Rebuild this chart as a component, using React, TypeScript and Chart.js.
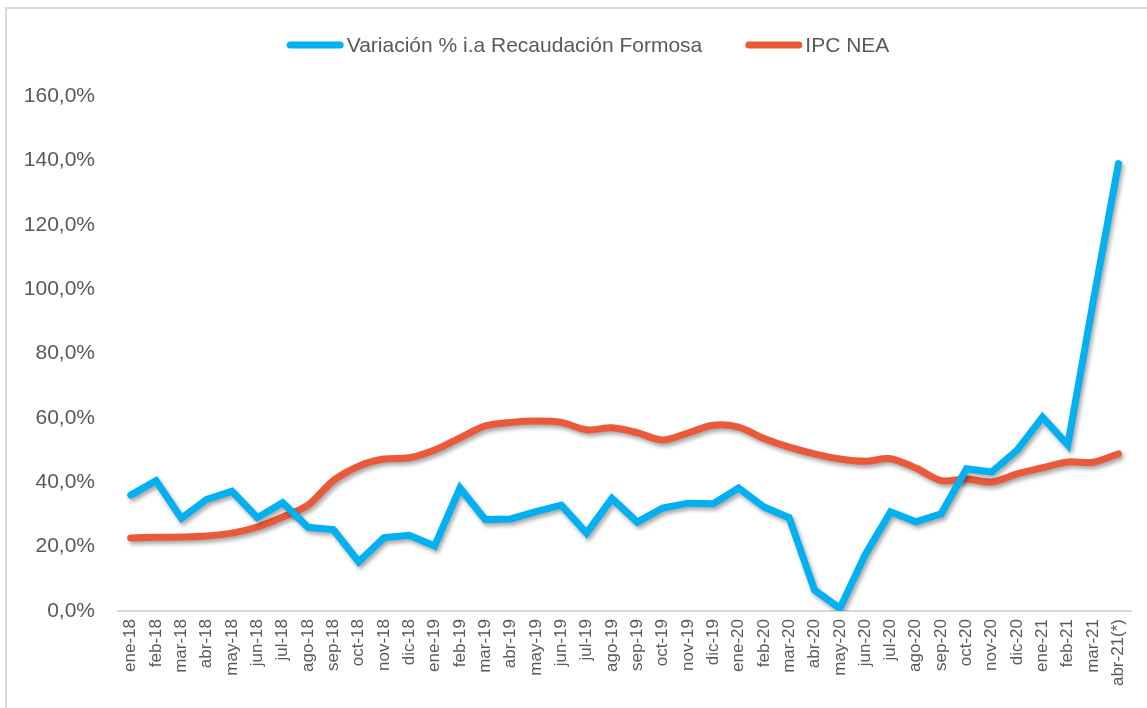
import React, { useEffect, useRef } from "react";
import { Chart, registerables } from "chart.js";

Chart.register(...registerables);

const categories = [
  "ene-18", "feb-18", "mar-18", "abr-18", "may-18", "jun-18", "jul-18", "ago-18", "sep-18", "oct-18", "nov-18", "dic-18",
  "ene-19", "feb-19", "mar-19", "abr-19", "may-19", "jun-19", "jul-19", "ago-19", "sep-19", "oct-19", "nov-19", "dic-19",
  "ene-20", "feb-20", "mar-20", "abr-20", "may-20", "jun-20", "jul-20", "ago-20", "sep-20", "oct-20", "nov-20", "dic-20",
  "ene-21", "feb-21", "mar-21", "abr-21(*)",
];

const recaudacion = [
  36.0, 40.5, 28.8, 34.7, 37.2, 29.0, 33.7, 26.0, 25.3, 15.3, 22.8, 23.5,
  20.2, 38.2, 28.4, 28.6, 30.9, 32.9, 24.2, 35.0, 27.6, 32.0, 33.5, 33.3,
  38.2, 32.3, 29.0, 6.5, 0.8, 17.5, 30.8, 27.7, 30.2, 44.2, 43.2, 50.0,
  60.2, 51.6, 96.0, 139.0,
];

const ipcNea = [
  22.7, 22.9, 23.0, 23.3, 24.2, 26.1, 29.2, 32.9, 40.5, 45.0, 47.2, 47.6,
  50.0, 53.8, 57.5, 58.6, 59.0, 58.6, 56.3, 56.9, 55.4, 53.1, 55.3, 57.7,
  57.1, 53.6, 50.9, 48.8, 47.2, 46.5, 47.3, 44.4, 40.5, 41.0, 40.1, 42.6,
  44.5, 46.3, 46.2, 48.8,
];

const seriesNames = ["Variación % i.a Recaudación Formosa", "IPC NEA"];
const seriesColors = ["#00B0F0", "#EA5A3A"];

const FONT = "'Liberation Sans', Arial, sans-serif";
const TEXT = "#595959";

const shadowPlugin = {
  id: "lineShadow",
  beforeDatasetDraw(chart: any) {
    const ctx = chart.ctx;
    ctx.save();
    ctx.shadowColor = "rgba(0,0,0,0.35)";
    ctx.shadowBlur = 4;
    ctx.shadowOffsetX = 2;
    ctx.shadowOffsetY = 3;
  },
  afterDatasetDraw(chart: any) {
    chart.ctx.restore();
  },
};

const legendPlugin = {
  id: "customLegend",
  afterDraw(chart: any) {
    const ctx = chart.ctx;
    const y = 45;
    const boxW = 57;
    const boxH = 7;
    const gap = 3;
    const itemGap = 43;
    const centerX = 588;
    ctx.save();
    ctx.font = `21px ${FONT}`;
    const items = chart.data.datasets.map((d: any) => ({
      text: d.label,
      color: d.borderColor,
      w: boxW + gap + ctx.measureText(d.label).width,
    }));
    const total = items.reduce((s: number, it: any) => s + it.w, 0) + itemGap * (items.length - 1);
    let x = centerX - total / 2;
    items.forEach((it: any) => {
      ctx.strokeStyle = it.color;
      ctx.lineWidth = boxH;
      ctx.lineCap = "round";
      ctx.beginPath();
      ctx.moveTo(x + boxH / 2, y);
      ctx.lineTo(x + boxW - boxH / 2, y);
      ctx.stroke();
      ctx.fillStyle = TEXT;
      ctx.textAlign = "left";
      ctx.textBaseline = "middle";
      ctx.fillText(it.text, x + boxW + gap, y + 1);
      x += it.w + itemGap;
    });
    ctx.restore();
  },
};

export default function App() {
  const ref = useRef<HTMLCanvasElement | null>(null);

  useEffect(() => {
    if (!ref.current) return;
    const chart = new Chart(ref.current, {
      type: "line",
      data: {
        labels: categories,
        datasets: [
          {
            label: seriesNames[0],
            data: recaudacion,
            borderColor: seriesColors[0],
            backgroundColor: seriesColors[0],
            borderWidth: 7,
            pointRadius: 0,
            tension: 0,
            borderCapStyle: "round",
            borderJoinStyle: "miter",
          },
          {
            label: seriesNames[1],
            data: ipcNea,
            borderColor: seriesColors[1],
            backgroundColor: seriesColors[1],
            borderWidth: 7,
            pointRadius: 0,
            tension: 0.3,
            borderCapStyle: "round",
            borderJoinStyle: "round",
          },
        ],
      },
      options: {
        animation: false,
        responsive: false,
        maintainAspectRatio: false,
        layout: { padding: { top: 96, right: 14, bottom: 7, left: 0 } },
        plugins: {
          legend: { display: false },
          tooltip: { enabled: false },
        },
        scales: {
          x: {
            offset: true,
            grid: { display: false, drawTicks: false },
            border: { display: true, color: "#D9D9D9", width: 2 },
            ticks: {
              autoSkip: false,
              minRotation: 90,
              maxRotation: 90,
              padding: 8,
              color: TEXT,
              font: { family: FONT, size: 17 },
            },
            afterFit(scale: any) {
              scale.height = 90;
            },
          },
          y: {
            min: 0,
            max: 160,
            grid: { display: false, drawTicks: false },
            border: { display: false },
            ticks: {
              stepSize: 20,
              padding: 23,
              color: TEXT,
              font: { family: FONT, size: 21 },
              callback: (v: any) => Number(v).toFixed(1).replace(".", ",") + "%",
            },
            afterFit(scale: any) {
              scale.width = 118;
            },
          },
        },
      },
      plugins: [shadowPlugin, legendPlugin],
    });
    return () => chart.destroy();
  }, []);

  return (
    <div style={{ position: "fixed", left: 0, top: 0, width: 1147, height: 708, background: "#fff", overflow: "hidden" }}>
      <div
        style={{
          position: "absolute",
          left: 5,
          top: 7,
          width: 1200,
          height: 720,
          borderTop: "2px solid #D9D9D9",
          borderLeft: "2px solid #D9D9D9",
        }}
      />
      <canvas ref={ref} width={1147} height={708} style={{ position: "absolute", left: 0, top: 0 }} />
    </div>
  );
}
